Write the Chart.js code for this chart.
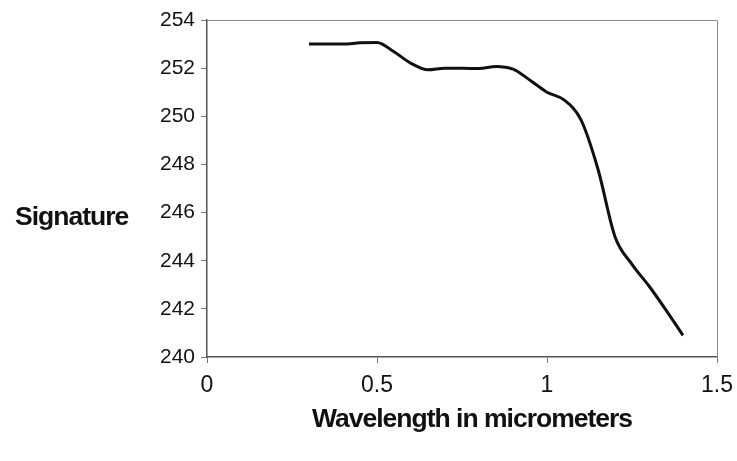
<!DOCTYPE html>
<html>
<head>
<meta charset="utf-8">
<script src="https://cdn.jsdelivr.net/npm/chart.js@4"></script>
<style>
html,body{margin:0;padding:0;background:#fff;}
#wrap{width:737px;height:461px;position:relative;}
</style>
</head>
<body>
<div id="wrap"><canvas id="c" width="737" height="461"></canvas></div>
<script>
const wavelengths = [0.30,0.35,0.40,0.45,0.50,0.55,0.60,0.65,0.70,0.75,0.80,0.85,0.90,0.95,1.00,1.05,1.10,1.15,1.20,1.25,1.30,1.35,1.40];
const signature   = [253.0,253.0,253.0,253.05,253.07,252.68,252.2,251.93,252.0,252.0,251.98,252.07,251.96,251.5,251.0,250.68,249.85,247.8,245.0,243.85,242.95,241.95,240.9];
const yTicks = {min:240, max:254, step:2};
const xTicks = {min:0, max:1.5, step:0.5};
const xTitle = 'Wavelength in micrometers';
const yTitle = 'Signature';

const points = wavelengths.map((x,i)=>({x:x, y:signature[i]}));

const framePlugin = {
  id:'frame',
  afterDraw(chart){
    const {ctx, chartArea:a} = chart;
    ctx.save();
    ctx.strokeStyle = '#8a8a8a';
    ctx.lineWidth = 1;
    ctx.beginPath();
    ctx.moveTo(a.left, a.top+0.5);
    ctx.lineTo(a.right+0.5, a.top+0.5);
    ctx.lineTo(a.right+0.5, a.bottom);
    ctx.stroke();
    ctx.fillStyle = '#111';
    ctx.font = 'bold 26.5px "Liberation Sans", Arial, sans-serif';
    try{ ctx.letterSpacing = '-1px'; }catch(e){}
    ctx.textAlign = 'center';
    ctx.textBaseline = 'alphabetic';
    ctx.fillText(xTitle, 472, 427);
    ctx.textAlign = 'left';
    ctx.fillText(yTitle, 15, 225);
    ctx.restore();
  }
};

new Chart(document.getElementById('c'), {
  type:'line',
  data:{datasets:[{
    data:points,
    borderColor:'#111',
    borderWidth:3,
    pointRadius:0,
    tension:0.4,
    cubicInterpolationMode:'monotone',
    fill:false
  }]},
  options:{
    responsive:false,
    animation:false,
    layout:{padding:{left:0,right:20,top:20,bottom:0}},
    plugins:{legend:{display:false}, tooltip:{enabled:false}},
    scales:{
      x:{
        type:'linear', min:xTicks.min, max:xTicks.max,
        afterFit(s){ s.height = 104; s.paddingRight = 0; s.paddingLeft = 0; },
        grid:{drawOnChartArea:false, drawTicks:true, tickLength:6, color:'#777'},
        border:{display:true, color:'#555', width:1.5},
        ticks:{stepSize:xTicks.step, color:'#111', padding:9, maxRotation:0,
          callback:(v)=>String(Math.round(v*10)/10),
          font:{family:'"Liberation Sans", Arial, sans-serif', size:23}}
      },
      y:{
        type:'linear', min:yTicks.min, max:yTicks.max,
        afterFit(s){ s.width = 207; s.paddingTop = 0; s.paddingBottom = 0; },
        grid:{drawOnChartArea:false, drawTicks:true, tickLength:6, color:'#777'},
        border:{display:true, color:'#555', width:1.5},
        ticks:{stepSize:yTicks.step, color:'#111', padding:6,
          font:{family:'"Liberation Sans", Arial, sans-serif', size:21}}
      }
    }
  },
  plugins:[framePlugin]
});
</script>
</body>
</html>
